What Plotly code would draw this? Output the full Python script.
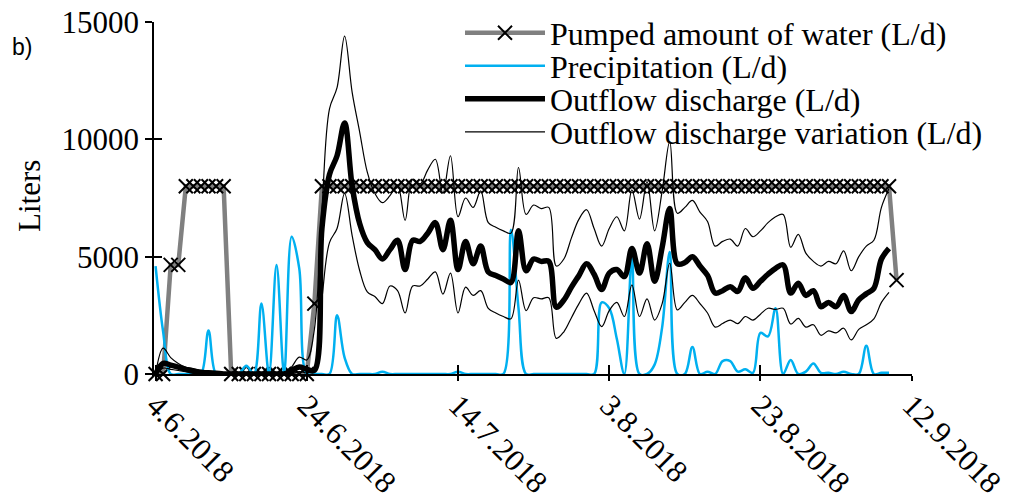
import pandas as pd
import plotly.graph_objects as go

start = pd.Timestamp("2018-06-04")

pumped = [0, 0, 4650, 4650, 8000, 8000, 8000, 8000, 8000, 8000,
          0, 0, 0, 0, 0, 0, 0, 0, 0, 0,
          0, 3000, 8000, 8000, 8000, 8000, 8000, 8000, 8000, 8000,
          8000, 8000, 8000, 8000, 8000, 8000, 8000, 8000, 8000, 8000,
          8000, 8000, 8000, 8000, 8000, 8000, 8000, 8000, 8000, 8000,
          8000, 8000, 8000, 8000, 8000, 8000, 8000, 8000, 8000, 8000,
          8000, 8000, 8000, 8000, 8000, 8000, 8000, 8000, 8000, 8000,
          8000, 8000, 8000, 8000, 8000, 8000, 8000, 8000, 8000, 8000,
          8000, 8000, 8000, 8000, 8000, 8000, 8000, 8000, 8000, 8000,
          8000, 8000, 8000, 8000, 8000, 8000, 8000, 8000, 4000]

precipitation = [4600, 1800, 0, 0, 0, 0, 0, 1850, 0, 0,
                 0, 0, 350, 0, 3000, 0, 4650, 0, 5850, 4500,
                 0, 0, 0, 0, 2500, 700, 0, 0, 0, 0,
                 100, 0, 0, 0, 0, 0, 0, 0, 0, 0,
                 100, 0, 0, 0, 0, 0, 0, 6150, 2800, 0,
                 0, 0, 0, 0, 0, 0, 0, 0, 0, 3050,
                 2800, 1500, 0, 4950, 0, 0, 400, 2000, 5200, 0,
                 0, 1150, 0, 100, 0, 550, 550, 100, 200, 50,
                 1750, 1600, 2800, 0, 600, 0, 100, 450, 50, 50,
                 0, 100, 0, 0, 1200, 0, 50, 50]

outflow = [0, 450, 380, 290, 200, 120, 80, 50, 30, 0,
           0, 0, 0, 0, 0, 0, 0, 0, 150, 300,
           200, 150, 6200, 8500, 9300, 10700, 8000, 6400, 5600, 5300,
           4900, 5300, 5700, 4450, 5700, 5650, 6000, 6450, 5300, 6550,
           4450, 5650, 4700, 5450, 4350, 4200, 4050, 3900, 6100, 4400,
           4900, 4800, 4800, 2850, 3150, 3700, 4200, 4700, 4250, 3600,
           4300, 4450, 4150, 5350, 4300, 5550, 3950, 5400, 7050, 4700,
           4750, 5000, 4600, 4200, 3450, 3550, 3720, 3520, 4100, 3650,
           3950, 4250, 4500, 4650, 3450, 3870, 3350, 3550, 2870, 3050,
           2870, 3350, 2660, 3160, 3420, 3650, 4900, 5350]

variation_upper = [0, 1100, 700, 450, 280, 230, 120, 60, 30, 0,
                   0, 0, 0, 0, 0, 0, 0, 0, 300, 720,
                   600, 1900, 7000, 11300, 12200, 14400, 12000, 10300, 8600, 7700,
                   7300, 7600, 8050, 6550, 8300, 8100, 8700, 9150, 7700, 9300,
                   6700, 7500, 7100, 7800, 6450, 6250, 6100, 6000, 8800, 6800,
                   7200, 7050, 7100, 4600, 4900, 5800, 6600, 7000, 6200, 5450,
                   6200, 6700, 6100, 7850, 6600, 8200, 6100, 7800, 9900, 6850,
                   7100, 7400, 6900, 6500, 5450, 5650, 5750, 5450, 6200, 5850,
                   6100, 6450, 6700, 6800, 5400, 5950, 5150, 4800, 4600, 4800,
                   4700, 5250, 4400, 5000, 5450, 5700, 7100, 7900]

variation_lower = [0, 250, 200, 150, 100, 80, 50, 0, 0, 0,
                   0, 0, 0, 0, 0, 0, 0, 0, 0, 100,
                   50, 150, 3200, 5600, 6200, 7700, 5900, 4400, 3500, 3300,
                   3000, 3750, 3550, 2600, 3750, 3750, 4050, 4350, 3400, 4300,
                   2600, 3700, 3350, 3550, 2800, 2600, 2450, 2350, 4000, 2700,
                   3250, 3200, 3250, 1520, 1800, 2400, 3000, 3450, 2700, 2020,
                   2700, 3050, 2450, 3800, 2450, 3200, 2300, 3000, 4720, 2730,
                   3050, 3350, 3000, 2600, 2000, 2150, 2300, 2150, 2450, 2300,
                   2550, 2800, 2750, 2800, 2130, 2370, 2000, 2100, 1650, 1840,
                   1750, 1950, 1450, 1900, 2100, 2350, 3050, 3480]

tick_dates = ["2018-06-04", "2018-06-24", "2018-07-14", "2018-08-03", "2018-08-23", "2018-09-12"]
tick_labels = ["4.6.2018", "24.6.2018", "14.7.2018", "3.8.2018", "23.8.2018", "12.9.2018"]
y_ticks = [0, 5000, 10000, 15000]
y_tick_labels = ["0", "5000", "10000", "15000"]

dates_p = list(pd.date_range(start, periods=len(pumped), freq="D"))
dates = list(pd.date_range(start, periods=len(outflow), freq="D"))

SERIF = "Liberation Serif, Times New Roman, serif"
LEG_FONT = dict(family=SERIF, size=32, color="black")

# page has an 8 px body margin: figure drawn at (8, 8) in the window
FIG_W, FIG_H, OFF = 1001, 495, 8
PLOT_L, PLOT_R, PLOT_T, PLOT_B = 154, 912, 22, 374   # window pixels of the plot area

fig = go.Figure()
fig.add_trace(go.Scatter(
    x=dates_p, y=pumped, mode="lines+markers", name="Pumped amount of water (L/d)",
    line=dict(color="#808080", width=4.5),
    marker=dict(symbol="x-thin", size=14, color="black", line=dict(color="black", width=2)),
    cliponaxis=False, legend="legend"))
fig.add_trace(go.Scatter(
    x=dates, y=precipitation, mode="lines", name="Precipitation (L/d)",
    line=dict(color="#00B0F0", width=2.5, shape="spline", smoothing=1),
    legend="legend2"))
fig.add_trace(go.Scatter(
    x=dates, y=outflow, mode="lines", name="Outflow discharge (L/d)",
    line=dict(color="black", width=5.5, shape="spline", smoothing=1),
    legend="legend3"))
fig.add_trace(go.Scatter(
    x=dates, y=variation_upper, mode="lines", name="Outflow discharge variation (L/d)",
    line=dict(color="black", width=1.2, shape="spline", smoothing=1), legendgroup="var",
    legend="legend4"))
fig.add_trace(go.Scatter(
    x=dates, y=variation_lower, mode="lines", name="Outflow discharge variation (L/d)",
    line=dict(color="black", width=1.2, shape="spline", smoothing=1), legendgroup="var",
    showlegend=False, legend="legend4"))
# empty trace to realise the overlay axes (inner half of crossing ticks)
fig.add_trace(go.Scatter(x=[], y=[], xaxis="x2", yaxis="y2", showlegend=False, hoverinfo="skip"))

x_range = ["2018-06-03 19:00", "2018-09-12 01:00"]


def leg(row_px):
    return dict(xref="container", yref="container", x=(460 - OFF) / FIG_W,
                y=1 - (row_px - OFF) / FIG_H,
                xanchor="left", yanchor="middle", bgcolor="rgba(0,0,0,0)",
                font=LEG_FONT, itemwidth=80)


def px_x(px):
    return (px - PLOT_L) / (PLOT_R - PLOT_L)


def px_y(py):
    return (PLOT_B - py) / (PLOT_B - PLOT_T)


fig.update_layout(
    width=FIG_W, height=FIG_H,
    margin=dict(l=PLOT_L - OFF, r=FIG_W + OFF - PLOT_R, t=PLOT_T - OFF,
                b=FIG_H + OFF - PLOT_B, autoexpand=False),
    paper_bgcolor="white", plot_bgcolor="white",
    font=dict(family=SERIF, size=31, color="black"),
    showlegend=True,
    legend=leg(33), legend2=leg(66), legend3=leg(99), legend4=leg(132),
    xaxis=dict(type="date", range=x_range, tickvals=tick_dates, ticktext=tick_labels,
               tickangle=45, ticks="outside", ticklen=5, tickwidth=1.5, tickcolor="black",
               showline=True, linecolor="black", linewidth=1.5, showgrid=False,
               zeroline=False, automargin=False, ticklabelstandoff=-6,
               ticklabeloverflow="allow", tickfont=dict(family=SERIF, size=31)),
    xaxis2=dict(type="date", range=x_range, tickvals=tick_dates, overlaying="x", anchor="y",
                side="bottom", ticks="inside", ticklen=9, tickwidth=1.5, tickcolor="black",
                showticklabels=False, showline=False, showgrid=False, zeroline=False,
                automargin=False),
    yaxis=dict(range=[0, 15000], tickvals=y_ticks, ticktext=y_tick_labels, ticks="outside",
               ticklen=7, tickwidth=1.5, tickcolor="black", showline=True, linecolor="black",
               linewidth=1.5, showgrid=False, zeroline=False, automargin=False,
               ticklabeloverflow="allow", tickfont=dict(family=SERIF, size=31)),
    yaxis2=dict(range=[0, 15000], tickvals=y_ticks, overlaying="y", anchor="x", side="left",
                ticks="inside", ticklen=8, tickwidth=1.5, tickcolor="black",
                showticklabels=False, showline=False, showgrid=False, zeroline=False,
                automargin=False),
    annotations=[
        dict(text="b)", xref="paper", yref="paper", x=px_x(22), y=px_y(47),
             xanchor="center", yanchor="middle", showarrow=False,
             font=dict(family="Liberation Sans, Arial, sans-serif", size=23, color="black")),
        dict(text="Liters", xref="paper", yref="paper", x=px_x(30), y=px_y(196),
             xanchor="center", yanchor="middle", showarrow=False, textangle=-90,
             font=dict(family=SERIF, size=31, color="black")),
    ],
)

fig.write_html("out.html")
